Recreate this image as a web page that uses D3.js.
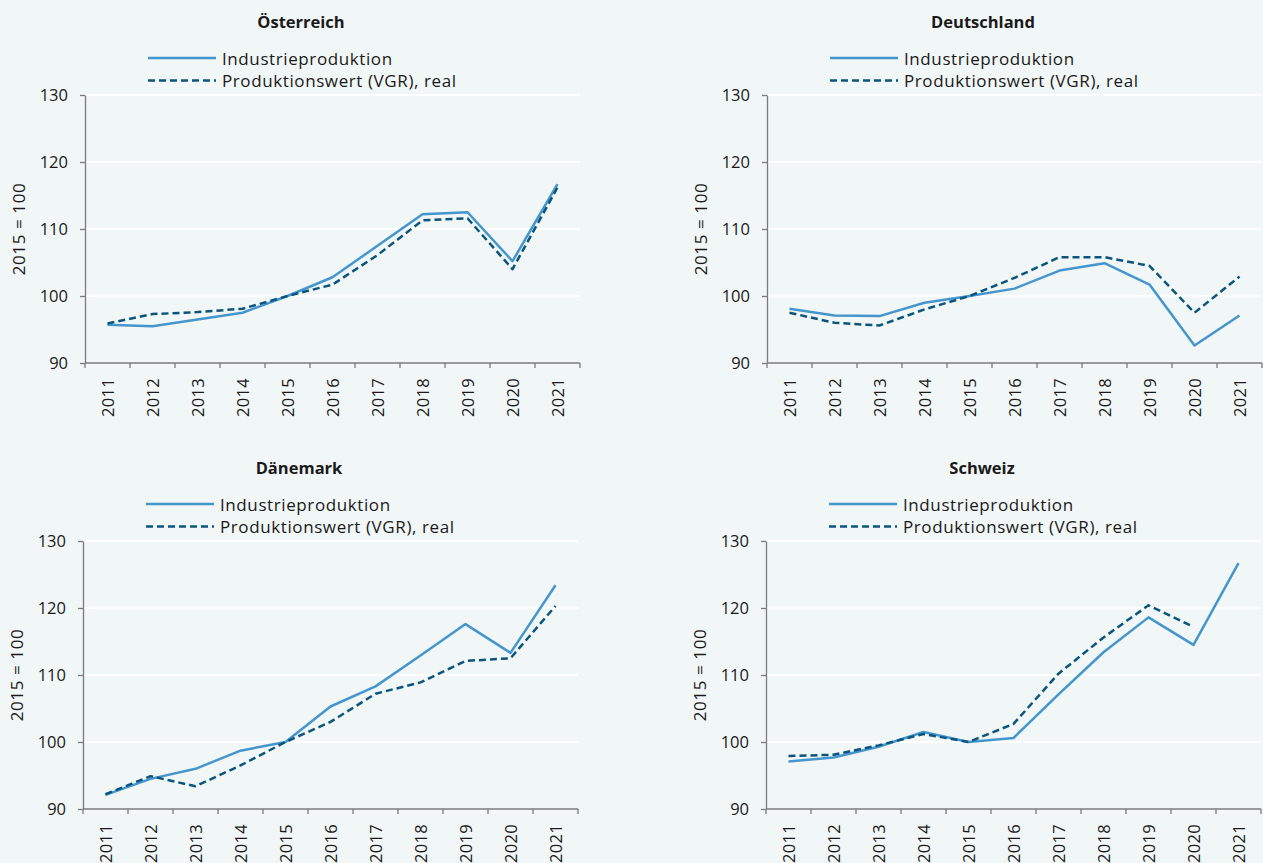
<!DOCTYPE html>
<html>
<head>
<meta charset="utf-8">
<script src="https://cdn.jsdelivr.net/npm/d3@7"></script>
<style>
    body { margin: 0; background: #f1f6f6; }
    svg { display: block; }
    text { font-family: "Open Sans", "DejaVu Sans", sans-serif; fill: #1a1a1a; }
</style>
</head>
<body>
<div id="chart"></div>
<script>
// Data (index, 2015 = 100)
const years = ['2011', '2012', '2013', '2014', '2015', '2016', '2017', '2018', '2019', '2020', '2021'];
const countries = ['Österreich', 'Deutschland', 'Dänemark', 'Schweiz'];
const seriesNames = ['Industrieproduktion', 'Produktionswert (VGR), real'];
const yTicks = [90, 100, 110, 120, 130];

const industrieAT = [95.7, 95.5, 96.5, 97.5, 100, 102.8, 107.5, 112.2, 112.5, 105.2, 116.7];
const vgrAT       = [95.9, 97.3, 97.6, 98.1, 100, 101.7, 106.1, 111.3, 111.6, 104.0, 116.2];
const industrieDE = [98.1, 97.1, 97.0, 99.0, 100, 101.1, 103.8, 104.9, 101.7, 92.6, 97.1];
const vgrDE       = [97.5, 96.0, 95.6, 98.0, 100, 102.7, 105.8, 105.8, 104.5, 97.5, 102.9];
const industrieDK = [92.1, 94.5, 96.0, 98.7, 100, 105.3, 108.3, 112.9, 117.6, 113.3, 123.4];
const vgrDK       = [92.2, 94.9, 93.4, 96.5, 100, 103.0, 107.2, 108.9, 112.1, 112.5, 120.3];
const industrieCH = [97.1, 97.7, 99.3, 101.5, 100, 100.6, 107.1, 113.4, 118.6, 114.5, 126.7];
const vgrCH       = [97.9, 98.1, 99.5, 101.2, 100, 102.7, 110.2, 115.6, 120.4, 117.2, null];

const seriesByCountry = [
    [industrieAT, vgrAT],
    [industrieDE, vgrDE],
    [industrieDK, vgrDK],
    [industrieCH, vgrCH]
];

// Layout of the four panels (axis origin of each plot)
const panelLayout = [
    { left: 85, top: 95 },
    { left: 767, top: 95 },
    { left: 83, top: 541 },
    { left: 766, top: 541 }
];
const plotWidth = 495;
const plotHeight = 268;

const colors = ['#4596cd', '#0b557d'];
const dashes = [null, '7,4'];
const axisColor = '#7b7b7b';

const width = 1263;
const height = 863;

const svg = d3.select('#chart')
    .append('svg')
    .attr('width', width)
    .attr('height', height);

svg.append('rect')
    .attr('width', width)
    .attr('height', height)
    .attr('fill', '#f1f6f6');

countries.forEach((country, i) => {
    const { left, top } = panelLayout[i];
    const bottom = top + plotHeight;

    const x = d3.scaleBand()
        .domain(years)
        .range([left, left + plotWidth]);

    const y = d3.scaleLinear()
        .domain([90, 130])
        .range([bottom, top]);

    const g = svg.append('g');

    // white gridlines
    g.selectAll('.grid')
        .data(yTicks.filter(t => t > 90))
        .enter()
        .append('line')
        .attr('x1', left)
        .attr('x2', left + plotWidth)
        .attr('y1', d => y(d))
        .attr('y2', d => y(d))
        .attr('stroke', '#ffffff')
        .attr('stroke-width', 2);

    // y axis
    const yAxis = g.append('g')
        .attr('transform', `translate(${left},0)`)
        .call(d3.axisLeft(y).tickValues(yTicks).tickSize(5).tickSizeOuter(0).tickPadding(12));
    yAxis.select('.domain').attr('stroke', axisColor).attr('stroke-width', 1.3);
    yAxis.selectAll('.tick line').attr('stroke', axisColor).attr('stroke-width', 1.3);
    yAxis.selectAll('.tick text')
        .attr('fill', '#1a1a1a')
        .style('font-size', '16.5px')
        .style('font-family', '"Open Sans", sans-serif');

    // x axis: line, ticks at band edges, rotated labels
    g.append('line')
        .attr('x1', left)
        .attr('x2', left + plotWidth)
        .attr('y1', bottom)
        .attr('y2', bottom)
        .attr('stroke', axisColor)
        .attr('stroke-width', 1.3);

    const edges = years.map(d => x(d)).concat([x.range()[1]]);
    g.selectAll('.xtick')
        .data(edges)
        .enter()
        .append('line')
        .attr('x1', d => d)
        .attr('x2', d => d)
        .attr('y1', bottom)
        .attr('y2', bottom + 5)
        .attr('stroke', axisColor)
        .attr('stroke-width', 1.3);

    g.selectAll('.xlabel')
        .data(years)
        .enter()
        .append('text')
        .attr('transform', d => `translate(${x(d) + x.bandwidth() / 2},${bottom + 15}) rotate(-90)`)
        .attr('text-anchor', 'end')
        .attr('dominant-baseline', 'central')
        .style('font-size', '16.5px')
        .style('letter-spacing', '0.3px')
        .text(d => d);

    // y axis title
    g.append('text')
        .attr('transform', `translate(${left - 67},${top + plotHeight / 2}) rotate(-90)`)
        .attr('text-anchor', 'middle')
        .attr('dominant-baseline', 'central')
        .style('font-size', '17px')
        .style('letter-spacing', '0.6px')
        .text('2015 = 100');

    // panel title
    g.append('text')
        .attr('x', left + 216)
        .attr('y', top - 74)
        .attr('text-anchor', 'middle')
        .attr('dominant-baseline', 'central')
        .style('font-size', '16.5px')
        .style('font-weight', 'bold')
        .text(country);

    // legend
    const legend = g.selectAll('.legend')
        .data(seriesNames)
        .enter()
        .append('g')
        .attr('transform', (d, k) => `translate(${left + 63},${top - 37 + k * 22.5})`);

    legend.append('line')
        .attr('x1', 0)
        .attr('x2', 68)
        .attr('stroke', (d, k) => colors[k])
        .attr('stroke-width', 2.5)
        .attr('stroke-dasharray', (d, k) => dashes[k]);

    legend.append('text')
        .attr('x', 74)
        .attr('dominant-baseline', 'central')
        .style('font-size', '17px')
        .style('letter-spacing', '0.6px')
        .text(d => d);

    // series lines
    const line = d3.line()
        .defined(d => d.value !== null)
        .x(d => x(d.year) + x.bandwidth() / 2)
        .y(d => y(d.value));

    seriesByCountry[i].forEach((values, k) => {
        g.append('path')
            .datum(years.map((yr, j) => ({ year: yr, value: values[j] })))
            .attr('fill', 'none')
            .attr('stroke', colors[k])
            .attr('stroke-width', 2.5)
            .attr('stroke-linejoin', 'round')
            .attr('stroke-dasharray', dashes[k])
            .attr('d', line);
    });
});
</script>
</body>
</html>
